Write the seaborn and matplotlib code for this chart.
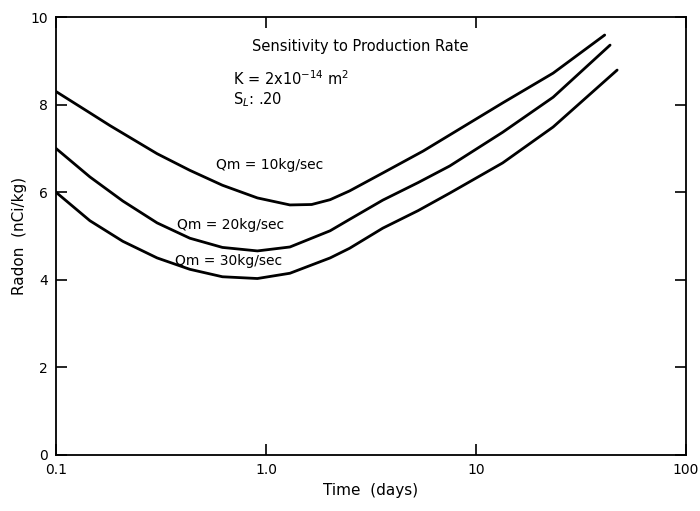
import matplotlib
matplotlib.use("Agg")
import matplotlib.pyplot as plt
import seaborn as sns
import pandas as pd
import numpy as np

# values (time in days, radon in nCi/kg)
t_10 = [0.1, 0.142, 0.181, 0.303, 0.434, 0.62, 0.91, 1.30, 1.65, 2.02, 2.5, 3.6, 5.6, 13.4, 23.3, 41.0]
r_10 = [8.3, 7.84, 7.52, 6.88, 6.50, 6.16, 5.87, 5.71, 5.72, 5.83, 6.03, 6.44, 6.94, 8.04, 8.72, 9.59]

t_20 = [0.1, 0.145, 0.208, 0.303, 0.434, 0.62, 0.91, 1.30, 2.02, 2.5, 3.6, 5.3, 7.5, 13.4, 23.3, 43.5]
r_20 = [7.0, 6.35, 5.80, 5.30, 4.95, 4.74, 4.66, 4.75, 5.12, 5.38, 5.82, 6.22, 6.60, 7.37, 8.17, 9.36]

t_30 = [0.1, 0.145, 0.208, 0.303, 0.434, 0.62, 0.91, 1.30, 2.02, 2.5, 3.6, 5.3, 7.5, 13.4, 23.3, 47.0]
r_30 = [6.0, 5.35, 4.88, 4.50, 4.24, 4.07, 4.03, 4.15, 4.50, 4.72, 5.18, 5.58, 5.98, 6.67, 7.49, 8.79]

x_ticks = [0.1, 1.0, 10, 100]
x_tick_labels = ["0.1", "1.0", "10", "100"]
y_ticks = [0, 2, 4, 6, 8, 10]


def main():
    sns.set_style("ticks")
    plt.rcParams['font.family'] = ['DejaVu Sans']
    plt.rcParams['text.color'] = 'black'
    plt.rcParams['axes.labelcolor'] = 'black'

    fig = plt.figure(figsize=(7, 5.11), dpi=100)
    ax = fig.add_axes([0.08, 0.1096, 0.9, 0.857])

    for t, r in [(t_10, r_10), (t_20, r_20), (t_30, r_30)]:
        df = pd.DataFrame({"t": t, "r": r})
        sns.lineplot(data=df, x="t", y="r", ax=ax, color="black",
                     linewidth=2.0, sort=False, estimator=None)

    ax.set_xscale("log")
    ax.set_xlim(0.1, 100)
    ax.set_ylim(0, 10)
    ax.set_xticks(x_ticks)
    ax.set_xticklabels(x_tick_labels)
    ax.set_yticks(y_ticks)
    ax.minorticks_off()
    ax.tick_params(direction="in", length=8, width=1.2, top=True, right=True,
                   labelsize=10, pad=6, colors="black")
    for s in ax.spines.values():
        s.set_linewidth(1.3)
        s.set_color("black")

    ax.set_xlabel("Time  (days)", fontsize=11, labelpad=4)
    ax.set_ylabel("Radon  (nCi/kg)", fontsize=11, labelpad=2)

    ax.text(2.8, 9.32, "Sensitivity to Production Rate", ha="center", va="center",
            fontsize=10.5)
    ax.text(0.7, 8.6, r"K = 2x10$^{-14}$ m$^2$", ha="left", va="center", fontsize=10.5)
    ax.text(0.7, 8.12, r"S$_L$: .20", ha="left", va="center", fontsize=10.5)
    ax.text(1.04, 6.62, "Qm = 10kg/sec", ha="center", va="center", fontsize=10)
    ax.text(0.68, 5.25, "Qm = 20kg/sec", ha="center", va="center", fontsize=10)
    ax.text(0.66, 4.42, "Qm = 30kg/sec", ha="center", va="center", fontsize=10)

    plt.savefig("out.png", dpi=100)


if __name__ == '__main__':
    main()
